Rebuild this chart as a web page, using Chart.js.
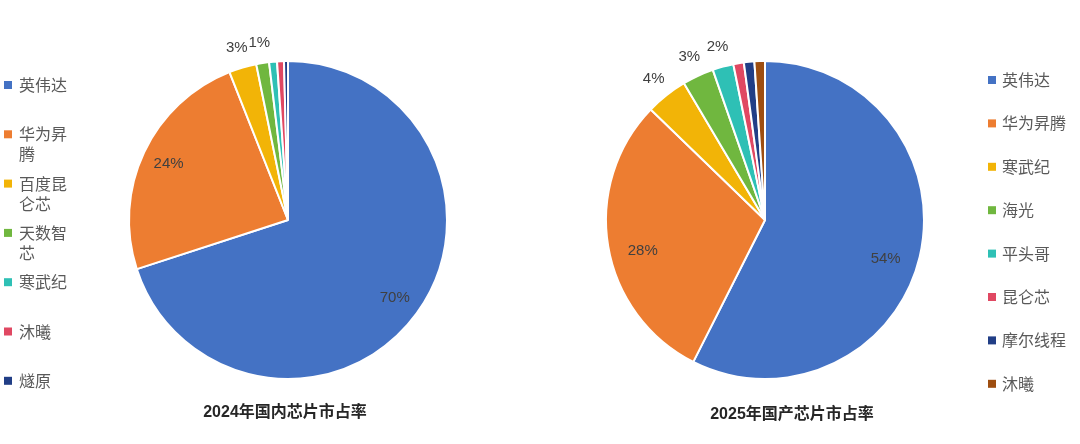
<!DOCTYPE html>
<html>
<head>
<meta charset="utf-8">
<script src="https://cdn.jsdelivr.net/npm/chart.js@4"></script>
<style>
html, body { margin: 0; padding: 0; background: #fff; }
#wrap { position: relative; width: 1080px; height: 444px; }
canvas { position: absolute; top: 0; }
</style>
</head>
<body>
<div id="wrap">
  <canvas id="c2024" width="540" height="444" style="left:0;width:540px;height:444px"></canvas>
  <canvas id="c2025" width="540" height="444" style="left:540px;width:540px;height:444px"></canvas>
</div>
<script>
// 2024年 数据
var labels2024 = ["英伟达", "华为昇腾", "百度昆仑芯", "天数智芯", "寒武纪", "沐曦", "燧原"];
var values2024 = [70, 24, 2.8, 1.3, 0.8, 0.7, 0.4];

// 2025年 数据
var labels2025 = ["英伟达", "华为昇腾", "寒武纪", "海光", "平头哥", "昆仑芯", "摩尔线程", "沐曦"];
var values2025 = [54, 28, 4, 3, 2, 1, 1, 1];

var colors2024 = ["#4472C4", "#ED7D31", "#F2B407", "#70B73F", "#2EC0B5", "#E04862", "#213E86"];
var colors2025 = ["#4472C4", "#ED7D31", "#F2B407", "#70B73F", "#2EC0B5", "#E04862", "#213E86", "#9E4E10"];

var FONT = '"Liberation Sans", "Noto Sans CJK SC", sans-serif';

// 画百分比标签、图例和标题
var pieExtras = {
    id: 'pieExtras',
    afterDatasetsDraw: function (chart, args, o) {
        var ctx = chart.ctx;
        var ds = chart.data.datasets[0];
        var meta = chart.getDatasetMeta(0);
        ctx.save();

        // 百分比
        ctx.font = '15px ' + FONT;
        ctx.fillStyle = '#404040';
        ctx.textAlign = 'center';
        ctx.textBaseline = 'middle';
        meta.data.forEach(function (arc, i) {
            var v = ds.data[i];
            if (v < o.minLabel) return;
            var p = arc.getProps(['x', 'y', 'startAngle', 'endAngle', 'outerRadius'], true);
            var mid = (p.startAngle + p.endAngle) / 2;
            var big = v >= 10;
            var f = big ? o.inside : o.outside;
            ctx.fillText(Math.round(v) + '%',
                p.x + Math.cos(mid) * p.outerRadius * f,
                p.y + Math.sin(mid) * p.outerRadius * f + (big ? o.insideDy : 0));
        });

        // 图例
        ctx.font = '16px "Noto Sans CJK SC", sans-serif';
        ctx.textAlign = 'left';
        chart.data.labels.forEach(function (name, i) {
            var y = o.legendY + i * o.legendStep;
            ctx.fillStyle = ds.backgroundColor[i];
            ctx.fillRect(o.squareX, y - 4, 8, 8);
            ctx.fillStyle = '#595959';
            var lines = [];
            if (o.wrap) {
                for (var k = 0; k < name.length; k += o.wrap) lines.push(name.slice(k, k + o.wrap));
            } else {
                lines.push(name);
            }
            lines.forEach(function (t, k) {
                ctx.fillText(t, o.textX, y + k * 20);
            });
        });

        // 标题
        ctx.font = 'bold 16px ' + FONT;
        ctx.fillStyle = '#262626';
        ctx.textAlign = 'center';
        ctx.fillText(o.title, o.titleX, o.titleY);
        ctx.restore();
    }
};

function makePie(id, labels, values, colors, padding, extras) {
    var ctx = document.getElementById(id).getContext('2d');
    return new Chart(ctx, {
        type: 'pie',
        data: {
            labels: labels,
            datasets: [{
                data: values,
                backgroundColor: colors,
                borderColor: '#ffffff',
                borderWidth: 2,
            }],
        },
        options: {
            responsive: false,
            animation: false,
            layout: { padding: padding },
            plugins: {
                legend: { display: false },
                tooltip: { enabled: false },
                pieExtras: extras,
            },
        },
        plugins: [pieExtras],
    });
}

makePie('c2024', labels2024, values2024, colors2024,
    { left: 128, right: 92, top: 60, bottom: 64 },
    { minLabel: 1, inside: 0.83, insideDy: 0, outside: 1.13,
      squareX: 4, textX: 19, legendY: 85, legendStep: 49.3, wrap: 3,
      title: '2024年国内芯片市占率', titleX: 285, titleY: 413 });

makePie('c2025', labels2025, values2025, colors2025,
    { left: 65, right: 155, top: 60, bottom: 64 },
    { minLabel: 1.5, inside: 0.78, insideDy: 10, outside: 1.13,
      squareX: 448, textX: 462, legendY: 80, legendStep: 43.4, wrap: 0,
      title: '2025年国产芯片市占率', titleX: 252, titleY: 415 });
</script>
</body>
</html>
